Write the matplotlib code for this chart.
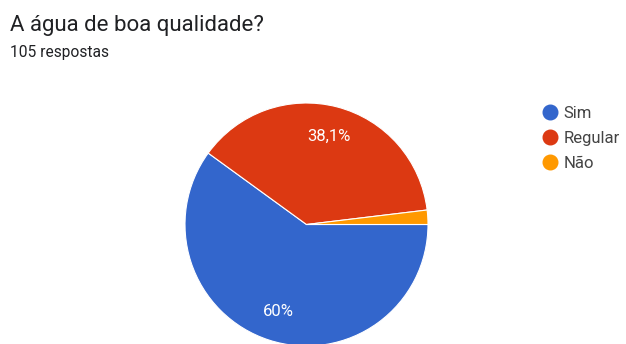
import matplotlib.pyplot as plt
from matplotlib.lines import Line2D

plt.rcParams['font.family'] = ['Roboto', 'DejaVu Sans']

# respostas
labels = ['Sim', 'Regular', 'Não']
counts = [63, 40, 2]
colors = ['#3366cc', '#dc3912', '#ff9900']
total = sum(counts)

W, H = 626, 344
fig = plt.figure(figsize=(W / 100, H / 100), dpi=100)
fig.patch.set_facecolor('white')

fig.text(10 / W, 1 - 31 / H, 'A água de boa qualidade?', fontsize=16,
         color='#202124', va='baseline')
fig.text(10 / W, 1 - 57 / H, f'{total} respostas', fontsize=11.2,
         color='#202124', va='baseline')

# pie area in pixels
cx, cy, r = 306.5, 224.5, 121.5
ax = fig.add_axes([(cx - r) / W, (H - cy - r) / H, 2 * r / W, 2 * r / H])


def pct_fmt(p):
    if p < 5:
        return ''
    return f'{p:.1f}%'.replace('.0%', '%').replace('.', ',')


wedges, texts, autotexts = ax.pie(
    counts, colors=colors, startangle=0, counterclock=False,
    autopct=pct_fmt, pctdistance=0.75,
    wedgeprops=dict(edgecolor='white', linewidth=0.8),
    textprops=dict(color='white', fontsize=12))
ax.set_xlim(-1, 1)
ax.set_ylim(-1, 1)
ax.set_aspect('equal')
ax.axis('off')

handles = [Line2D([], [], marker='o', linestyle='none', markersize=10.5,
                  markerfacecolor=c, markeredgecolor=c) for c in colors]
leg = fig.legend(handles, labels, loc='upper left',
                 bbox_to_anchor=(542 / W, 1 - 106 / H), frameon=False,
                 fontsize=12, handletextpad=0.3, labelspacing=0.6,
                 borderaxespad=0, borderpad=0, handlelength=1.0,
                 labelcolor='#444444')

fig.savefig('out.png', dpi=100, facecolor='white')
